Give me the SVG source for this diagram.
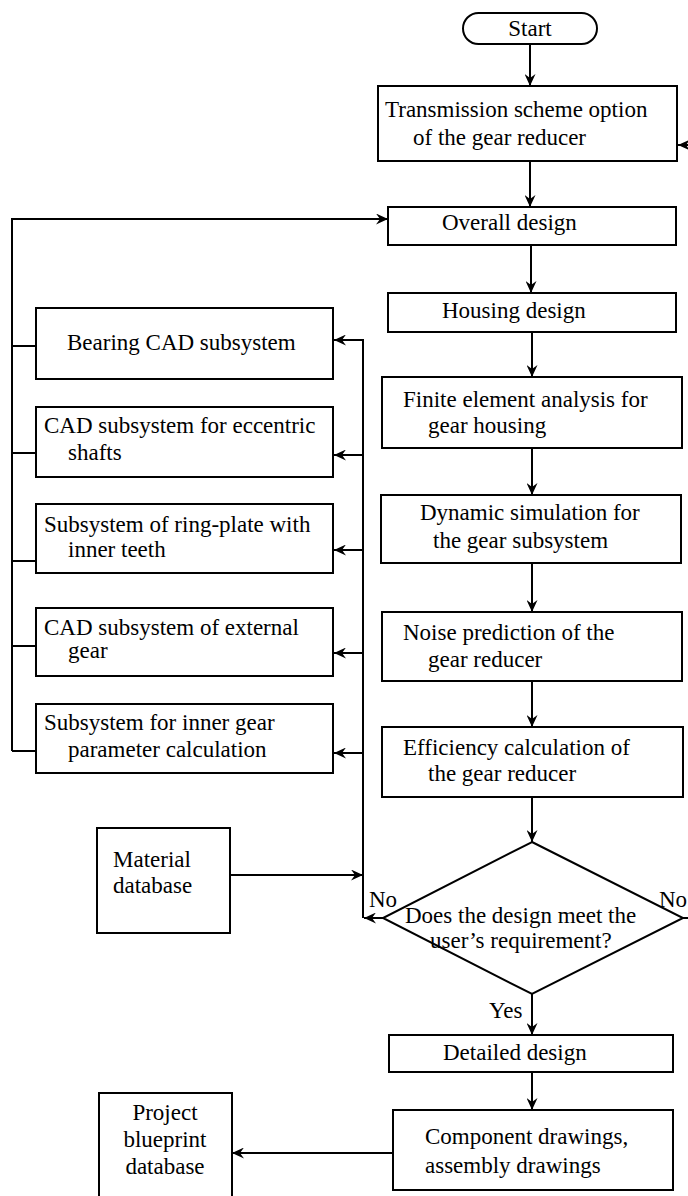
<svg xmlns="http://www.w3.org/2000/svg" width="688" height="1196" viewBox="0 0 688 1196">
<style>
.b{fill:#fff;stroke:#000;stroke-width:2}
.t{font-family:"Liberation Serif","Times New Roman",serif;font-size:23px;fill:#000}
.c{fill:none;stroke:#000;stroke-width:2}
.a{marker-end:url(#ah)}
</style>
<defs>
<marker id="ah" markerUnits="userSpaceOnUse" markerWidth="13" markerHeight="11" refX="12" refY="5.5" orient="auto">
<path d="M0,0 L12,5.5 L0,11 L4,5.5 Z" fill="#000"/>
</marker>
</defs>
<rect width="688" height="1196" fill="#fff"/>
<g id="connectors">
<path class="c a" d="M530,44 V86"/>
<path class="c a" d="M530,161 V207"/>
<path class="c a" d="M12,751 V219 H388"/>
<path class="c a" d="M531,245 V293"/>
<path class="c a" d="M532,332 V377"/>
<path class="c a" d="M532,448 V495"/>
<path class="c a" d="M532,563 V612"/>
<path class="c a" d="M532,681 V727"/>
<path class="c a" d="M532,797 V842"/>
<path class="c a" d="M532,994 V1035"/>
<path class="c a" d="M532,1072 V1110"/>
<path class="c a" d="M393,1153 H232"/>
<path class="c a" d="M230,875 H363"/>
<path class="c a" d="M383,918 H364"/>
<path class="c a" d="M363,918 V340 H334"/>
<path class="c a" d="M363,455 H334"/>
<path class="c a" d="M363,550 H334"/>
<path class="c a" d="M363,653 H334"/>
<path class="c a" d="M363,753 H334"/>
<path class="c" d="M12,346 H36 M12,453 H36 M12,561 H36 M12,646 H36 M12,751 H36"/>
<path class="c" d="M683,918 H690"/>
<path class="c a" d="M692,145 H678"/>
<text class="t" x="369" y="907">No</text>
<text class="t" x="659" y="907">No</text>
<text class="t" x="489" y="1018">Yes</text>
</g>
<g id="start"><rect class="b" x="463" y="13" width="134" height="31" rx="15.5"/><text class="t" x="530" y="36" text-anchor="middle">Start</text></g>
<g id="transmission"><rect class="b" x="378" y="86" width="299" height="75"/><text class="t" x="385" y="117">Transmission scheme option</text><text class="t" x="413" y="145">of the gear reducer</text></g>
<g id="overall"><rect class="b" x="388" y="207" width="288" height="38"/><text class="t" x="442" y="230">Overall design</text></g>
<g id="housing"><rect class="b" x="388" y="293" width="288" height="39"/><text class="t" x="442" y="318">Housing design</text></g>
<g id="fea"><rect class="b" x="382" y="377" width="300" height="71"/><text class="t" x="403" y="407">Finite element analysis for</text><text class="t" x="428" y="433">gear housing</text></g>
<g id="dynamic"><rect class="b" x="381" y="495" width="300" height="68"/><text class="t" x="420" y="520">Dynamic simulation for</text><text class="t" x="433" y="548">the gear subsystem</text></g>
<g id="noise"><rect class="b" x="382" y="612" width="300" height="69"/><text class="t" x="403" y="640">Noise prediction of the</text><text class="t" x="428" y="667">gear reducer</text></g>
<g id="efficiency"><rect class="b" x="382" y="727" width="301" height="70"/><text class="t" x="403" y="755">Efficiency calculation of</text><text class="t" x="428" y="781">the gear reducer</text></g>
<g id="decision"><polygon class="b" points="532,842 683,918 532,994 383,918"/><text class="t" x="405" y="923">Does the design meet the</text><text class="t" x="430" y="948">user’s requirement?</text></g>
<g id="detailed"><rect class="b" x="389" y="1035" width="284" height="37"/><text class="t" x="443" y="1060">Detailed design</text></g>
<g id="component"><rect class="b" x="393" y="1110" width="280" height="80"/><text class="t" x="425" y="1144">Component drawings,</text><text class="t" x="425" y="1173">assembly drawings</text></g>
<g id="bearing"><rect class="b" x="36" y="308" width="297" height="71"/><text class="t" x="67" y="350">Bearing CAD subsystem</text></g>
<g id="eccentric"><rect class="b" x="36" y="407" width="297" height="70"/><text class="t" x="44" y="433">CAD subsystem for eccentric</text><text class="t" x="68" y="460">shafts</text></g>
<g id="ringplate"><rect class="b" x="36" y="504" width="297" height="69"/><text class="t" x="44" y="532">Subsystem of ring-plate with</text><text class="t" x="68" y="557">inner teeth</text></g>
<g id="external"><rect class="b" x="36" y="608" width="297" height="68"/><text class="t" x="44" y="635">CAD subsystem of external</text><text class="t" x="68" y="658">gear</text></g>
<g id="innerparam"><rect class="b" x="36" y="704" width="297" height="69"/><text class="t" x="44" y="730">Subsystem for inner gear</text><text class="t" x="68" y="757">parameter calculation</text></g>
<g id="material"><rect class="b" x="97" y="828" width="133" height="105"/><text class="t" x="113" y="867">Material</text><text class="t" x="113" y="893">database</text></g>
<g id="project"><rect class="b" x="99" y="1093" width="133" height="110"/><text class="t" x="165" y="1120" text-anchor="middle">Project</text><text class="t" x="165" y="1147" text-anchor="middle">blueprint</text><text class="t" x="165" y="1174" text-anchor="middle">database</text></g>
</svg>
